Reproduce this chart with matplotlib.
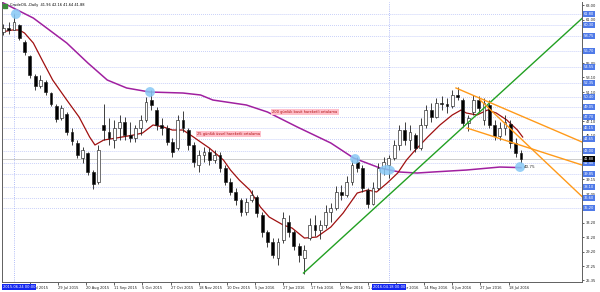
import matplotlib
matplotlib.use('Agg')
import matplotlib.pyplot as plt
from matplotlib.patches import Ellipse
import numpy as np

# candles, one every 3 daily bars (bar 0 = 2015.06.24)
bars = np.arange(-6, 289, 3)
opens = [59.33, 59.87, 59.60, 60.30, 57.96, 56.04, 53.30, 51.93, 52.48, 50.97,
         49.19, 47.55, 48.09, 45.63, 44.12, 42.06, 42.75, 40.15, 38.77, 46.59,
         45.63, 44.53, 46.17, 46.99, 45.22, 44.80, 46.17, 47.27, 50.01, 48.64,
         46.59, 46.17, 44.26, 43.43, 47.27, 45.90, 43.85, 41.11, 42.48, 42.89,
         41.79, 42.48, 40.69, 38.77, 37.41, 36.31, 34.67, 36.31, 36.72, 34.25,
         31.93, 30.56, 28.36, 30.83, 33.30, 31.93, 30.01, 28.36, 31.10, 32.88,
         32.20, 32.88, 34.67, 35.21, 37.41, 36.99, 38.77, 41.52, 40.69, 37.68,
         35.76, 37.95, 40.69, 41.11, 42.06, 43.85, 45.90, 44.53, 45.22, 43.43,
         46.59, 48.64, 47.68, 49.60, 49.46, 49.19, 50.70, 50.01, 46.86, 48.37,
         50.01, 47.27, 49.33, 46.59, 45.08, 46.17, 46.72, 44.12, 42.75]
highs = [60.42, 60.70, 61.79, 60.45, 58.23, 56.18, 53.57, 53.44, 52.75, 51.11,
         49.46, 49.33, 48.37, 46.17, 44.53, 43.57, 42.89, 40.42, 43.85, 49.46,
         47.55, 47.27, 47.96, 47.68, 46.99, 46.59, 47.96, 50.42, 51.38, 49.05,
         47.55, 46.59, 44.80, 47.96, 48.50, 46.17, 44.20, 43.16, 43.57, 43.43,
         43.16, 42.89, 41.11, 39.33, 38.00, 36.58, 36.58, 37.68, 36.99, 34.67,
         32.20, 31.10, 31.10, 34.67, 34.25, 32.20, 30.42, 30.15, 33.84, 34.25,
         33.57, 35.62, 35.90, 38.23, 38.36, 39.60, 41.79, 42.20, 41.11, 37.95,
         38.77, 41.38, 42.20, 42.48, 44.53, 46.59, 46.99, 46.59, 45.50, 47.55,
         49.33, 49.60, 50.28, 50.56, 50.28, 51.38, 51.79, 50.28, 47.96, 50.70,
         50.56, 50.28, 50.01, 47.27, 46.99, 47.96, 47.27, 44.80, 43.16]
lows = [58.92, 59.05, 59.60, 58.23, 56.18, 53.02, 51.38, 51.66, 50.70, 49.19,
        46.99, 47.27, 45.22, 43.85, 42.06, 41.38, 39.73, 37.82, 38.50, 44.53,
        43.85, 43.43, 44.53, 44.53, 44.26, 44.26, 45.22, 46.99, 48.64, 45.90,
        45.22, 43.85, 42.20, 43.16, 45.63, 43.16, 40.83, 40.15, 41.52, 41.11,
        41.38, 40.15, 38.36, 36.99, 35.62, 34.12, 34.25, 36.04, 33.98, 31.24,
        29.87, 28.36, 27.41, 30.42, 31.24, 29.46, 27.82, 26.17, 30.83, 31.38,
        30.97, 32.47, 33.30, 34.94, 36.31, 36.72, 38.36, 40.15, 37.41, 35.21,
        35.62, 37.68, 39.73, 39.33, 41.79, 43.16, 43.85, 43.16, 42.89, 43.16,
        46.17, 46.99, 47.55, 48.64, 48.23, 48.91, 50.01, 46.31, 45.76, 47.96,
        48.37, 46.59, 46.17, 44.53, 44.53, 45.22, 43.43, 42.20, 41.38]
closes = [59.87, 59.60, 60.70, 58.50, 56.59, 53.44, 51.93, 52.75, 51.11, 49.46,
          47.41, 48.91, 45.63, 44.39, 42.48, 43.16, 40.15, 38.50, 43.16, 45.90,
          44.80, 46.17, 46.99, 45.22, 44.80, 46.17, 47.27, 49.74, 49.33, 46.59,
          46.17, 44.26, 42.89, 47.27, 46.17, 43.85, 41.52, 42.48, 42.89, 41.79,
          42.48, 40.69, 38.77, 37.41, 36.31, 34.67, 36.04, 36.99, 34.53, 31.93,
          30.56, 28.78, 30.56, 33.84, 31.93, 30.01, 28.78, 29.46, 32.88, 32.20,
          32.88, 34.67, 35.21, 37.41, 36.99, 38.77, 41.11, 40.69, 37.95, 35.76,
          37.95, 40.69, 41.52, 42.06, 43.85, 45.90, 44.53, 45.63, 43.43, 46.59,
          48.64, 47.68, 49.60, 49.46, 49.19, 50.70, 50.42, 46.86, 47.55, 50.01,
          48.91, 49.60, 46.59, 45.08, 46.17, 46.99, 44.12, 42.75, 41.88]

# 25 day exponential and 200 day simple moving averages
ema_x = [-7, -1, 3, 6, 11, 16, 22, 30, 37, 43, 46, 51, 58, 68, 73, 79, 85, 90,
         96, 102, 106, 111, 119, 123, 128, 134, 140, 145, 153, 158, 165, 172, 180,
         187, 195, 201, 206, 212, 218, 223, 227, 235, 242, 249, 254, 257, 263, 269,
         274, 280, 286, 289]
ema_y = [59.33, 59.60, 59.60, 59.19, 57.82, 55.49, 52.75, 50.01, 47.68, 44.94,
         43.85, 44.53, 44.80, 45.22, 45.49, 46.59, 46.31, 45.90, 45.90, 44.94,
         44.26, 43.43, 41.79, 40.42, 39.05, 37.68, 35.35, 33.98, 32.88, 32.47,
         31.10, 31.24, 32.61, 34.53, 37.27, 37.68, 37.41, 38.64, 40.01, 41.79,
         42.89, 44.94, 46.59, 47.96, 48.64, 48.23, 47.96, 48.64, 48.23, 47.27,
         45.90, 44.94]
sma_x = [-8, -6, 11, 30, 42, 53, 64, 77, 96, 106, 113, 132, 144, 161, 180, 193,
         208, 219, 229, 238, 257, 276, 288]
sma_y = [63.71, 63.30, 61.24, 57.82, 55.08, 52.75, 51.66, 51.11, 50.97, 50.70,
         50.01, 49.33, 48.37, 46.31, 44.12, 42.06, 40.69, 40.15, 40.01, 40.15,
         40.42, 40.83, 40.75]

# drawn objects
level_prices = [61.80, 60.30, 58.75, 56.70, 54.55, 52.35, 50.40, 49.05, 47.70,
                46.15, 44.65, 43.00, 41.40, 39.85, 38.10, 36.60, 35.20]
axis_ticks = [63.00, 61.00, 55.05, 53.10, 51.10, 47.10, 45.10, 39.15, 37.05,
              33.20, 31.20, 29.20, 27.25, 25.35]
trend_x = [164.5, 330]
trend_y = [26.31, 62.8]
fan_x = [[251.1, 322.7], [257.4, 322.7], [264.8, 322.7]]
fan_y = [[51.66, 44.26], [46.17, 41.11], [50.01, 36.79]]
marks = [(1.1, 61.79, 5.6), (77.3, 51.11, 5.6), (193.8, 41.93, 5.6),
         (211.9, 40.42, 9.0), (287.5, 40.83, 5.6)]
vlines_x = [0, 213]
vlines_txt = ['2015.06.24 00:00', '2016.04.18 00:00']
last_price = 41.88

date_pos = np.arange(9, 282, 16)
date_labels = ['7 Jul 2015', '29 Jul 2015', '20 Aug 2015', '11 Sep 2015',
               '5 Oct 2015', '27 Oct 2015', '18 Nov 2015', '10 Dec 2015',
               '5 Jan 2016', '27 Jan 2016', '17 Feb 2016', '10 Mar 2016',
               '1 Apr 2016', '25 Apr 2016', '14 May 2016', '6 Jun 2016',
               '27 Jun 2016', '18 Jul 2016']

fs = 2.6
fig = plt.figure(figsize=(6, 2.92), dpi=100)
ax = fig.add_axes([2 / 600, 10 / 292, 580 / 600, 280 / 292])
ax.set_xlim(-6.8, 322.7)
ax.set_ylim(25.08, 63.44)

for p in level_prices:
    ax.axhline(p, color='#aab6f6', lw=0.55, ls=(0, (1, 1.6)), zorder=0)
for vx in vlines_x:
    ax.axvline(vx, color='#9aa8f4', lw=0.6, ls=(0, (1, 1.6)), zorder=0)
ax.axhline(last_price, color='#cccccc', lw=0.7, zorder=0)

ax.plot(sma_x, sma_y, color='#a020a0', lw=1.1, zorder=2)
ax.plot(ema_x, ema_y, color='#a01010', lw=0.9, zorder=2)

o = np.array(opens); c = np.array(closes)
ax.vlines(bars, lows, highs, color='#202020', lw=0.6, zorder=3)
body_lo = np.minimum(o, c)
body_h = np.maximum(np.abs(c - o), 0.15)
cols = ['white' if cc >= oo else 'black' for oo, cc in zip(o, c)]
ax.bar(bars, body_h, bottom=body_lo, width=1.6, color=cols, edgecolor='#202020',
       linewidth=0.45, zorder=4)

ax.plot(trend_x, trend_y, color='#22a022', lw=1.0, zorder=5)
for fx, fy in zip(fan_x, fan_y):
    ax.plot(fx, fy, color='#ff9a1a', lw=1.0, zorder=5)

for mx, my, mw in marks:
    ax.add_patch(Ellipse((mx, my), mw, 1.35, facecolor='#87c8f5', edgecolor='none',
                         alpha=0.85, zorder=6))
ax.text(289.5, 40.9, '40.75', fontsize=3, color='#303030', va='center', zorder=7)

pink = dict(boxstyle='square,pad=0.35', facecolor='#ffc0cb', edgecolor='none')
ax.text(146.6, 48.37, '200 günlük basit hareketli ortalama', fontsize=fs,
        color='#b01010', va='center', bbox=pink, zorder=7)
ax.text(104, 45.35, '25 günlük üssel hareketli ortalama', fontsize=fs,
        color='#b01010', va='center', bbox=pink, zorder=7)

ax.text(0.014, 0.996, 'CrudeOIL ,Daily  41.96 42.16 41.64 41.88', transform=ax.transAxes,
        fontsize=fs, color='black', va='top', zorder=7)
ax.plot([0.005], [0.985], transform=ax.transAxes, marker='s', ms=2.2, color='#3c8c3c',
        clip_on=False, zorder=7)

# axes styling
ax.spines['top'].set_visible(False)
for s in ['left', 'bottom', 'right']:
    ax.spines[s].set_color('#606060')
    ax.spines[s].set_linewidth(0.7)
ax.yaxis.tick_right()
ax.set_yticks(axis_ticks)
ax.set_yticklabels([f'{t:.2f}' for t in axis_ticks])
ax.tick_params(axis='y', labelsize=fs, length=1.5, width=0.5, pad=1, colors='#202020')
ax.set_xticks(date_pos)
ax.set_xticklabels(date_labels, ha='left')
ax.tick_params(axis='x', labelsize=fs, length=2, width=0.5, pad=1, colors='#202020')

for p in level_prices:
    ax.annotate(f'{p:.2f}', xy=(1.0, p), xycoords=('axes fraction', 'data'),
                xytext=(1.2, 0), textcoords='offset points', fontsize=fs,
                color='white', va='center', ha='left', annotation_clip=False,
                bbox=dict(boxstyle='square,pad=0.25', facecolor='#4f7ae8',
                          edgecolor='none'))
ax.annotate(f'{last_price:.2f}', xy=(1.0, last_price), xycoords=('axes fraction', 'data'),
            xytext=(1.2, 0), textcoords='offset points', fontsize=fs, color='white',
            va='center', ha='left', annotation_clip=False,
            bbox=dict(boxstyle='square,pad=0.25', facecolor='black', edgecolor='none'))
ax.annotate(vlines_txt[0], xy=(0.0, 0.0), xycoords='axes fraction',
            xytext=(0.6, -3.6), textcoords='offset points', fontsize=fs,
            color='white', va='center', ha='left', annotation_clip=False,
            bbox=dict(boxstyle='square,pad=0.25', facecolor='#1428f0', edgecolor='none'))
ax.annotate(vlines_txt[1], xy=(vlines_x[1], 0.0), xycoords=('data', 'axes fraction'),
            xytext=(0, -3.6), textcoords='offset points', fontsize=fs,
            color='white', va='center', ha='center', annotation_clip=False,
            bbox=dict(boxstyle='square,pad=0.25', facecolor='#1428f0', edgecolor='none'))

fig.savefig('out.png', dpi=100, facecolor='white')
